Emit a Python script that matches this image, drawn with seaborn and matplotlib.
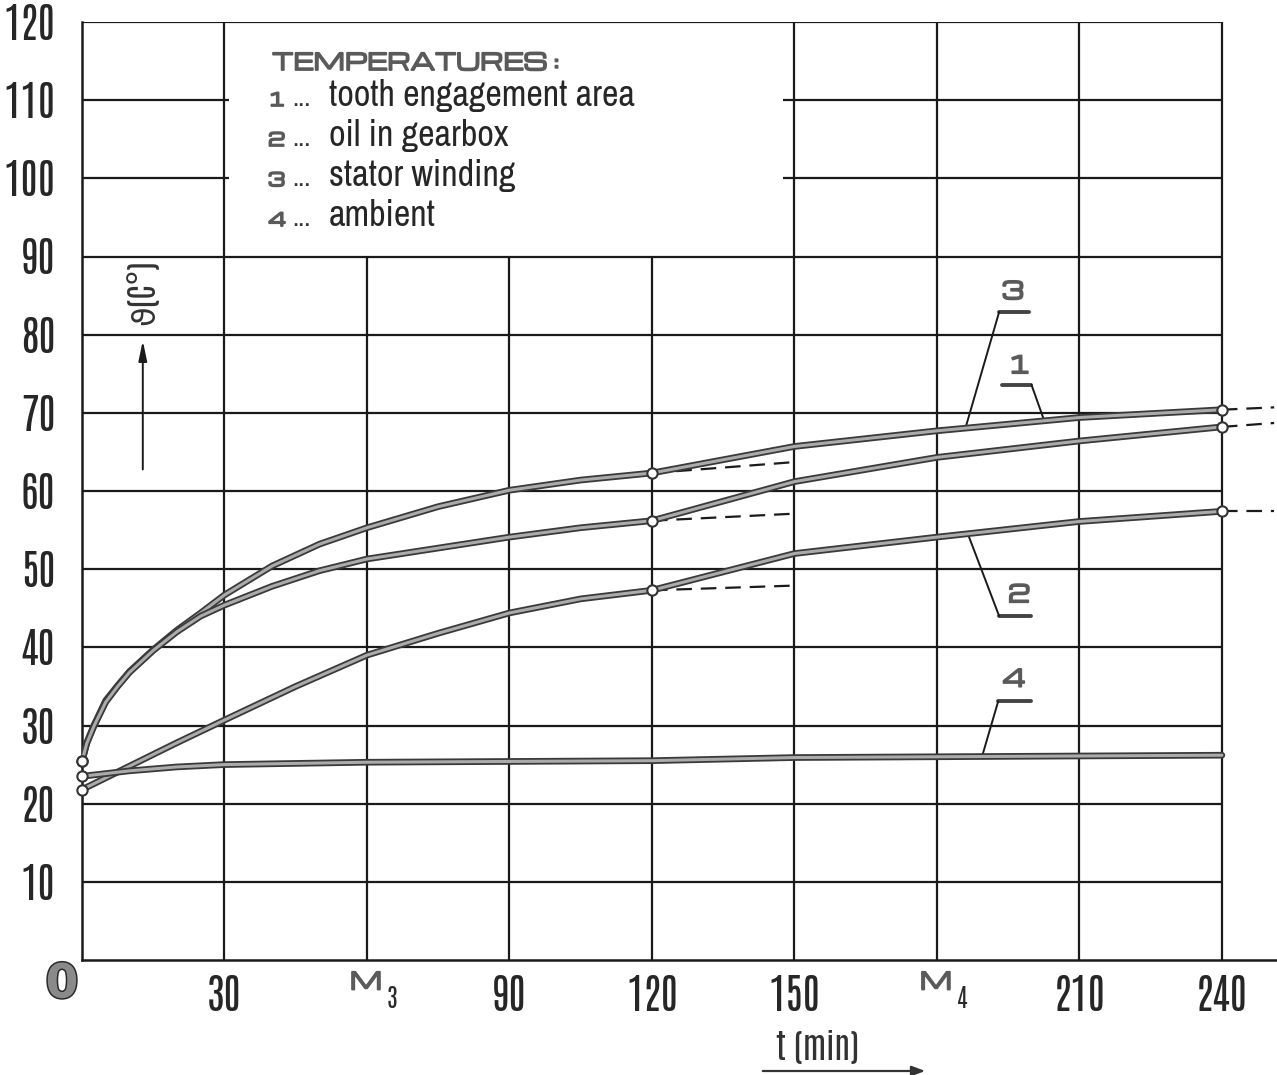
import numpy as np
import pandas as pd
import matplotlib
matplotlib.use("Agg")
import matplotlib.pyplot as plt
import matplotlib.patheffects as pe
from matplotlib.patches import FancyArrowPatch
import seaborn as sns

# values: t in min, temperature in deg C
t_3 = [0, 1, 2.5, 5, 7.5, 10, 15, 20, 25, 30, 40, 50, 60, 75, 90, 105, 120, 150, 180, 210, 240]
temp_3 = [25.4, 27.8, 30.0, 33.2, 35.1, 36.9, 39.7, 42.2, 44.4, 46.7, 50.4, 53.2, 55.3, 58.0, 60.1, 61.4, 62.3,
          65.7, 67.7, 69.4, 70.4]

t_1 = [0, 1, 2.5, 5, 7.5, 10, 15, 20, 25, 30, 40, 50, 60, 75, 90, 105, 120, 150, 180, 210, 240]
temp_1 = [25.4, 27.7, 29.9, 33.0, 35.0, 36.8, 39.6, 42.0, 44.0, 45.4, 47.8, 49.8, 51.3, 52.7, 54.1, 55.3, 56.2,
          61.2, 64.3, 66.4, 68.2]

t_2 = [0, 10, 20, 30, 45, 60, 75, 90, 105, 120, 150, 180, 210, 240]
temp_2 = [21.8, 24.8, 27.8, 30.7, 35.0, 39.0, 41.8, 44.4, 46.2, 47.3, 52.0, 54.1, 56.1, 57.4]

t_4 = [0, 10, 20, 30, 60, 90, 120, 150, 180, 210, 240]
temp_4 = [23.5, 24.2, 24.7, 25.0, 25.3, 25.4, 25.5, 25.9, 26.0, 26.1, 26.2]

# dashed extrapolations after the measuring points
dash_t_120 = [120, 150]
dash_3_120 = [62.3, 63.7]
dash_1_120 = [56.2, 57.1]
dash_2_120 = [47.3, 47.9]
dash_t_240 = [240, 251]
dash_3_240 = [70.4, 70.7]
dash_1_240 = [68.2, 68.7]
dash_2_240 = [57.4, 57.4]

measure_t = [0, 120, 240]

x_ticks = [0, 30, 60, 90, 120, 150, 180, 210, 240]
x_labels = ["", "30", "", "90", "120", "150", "", "210", "240"]
y_ticks = [0, 10, 20, 30, 40, 50, 60, 70, 80, 90, 100, 110, 120]
y_labels = [""] + [str(v) for v in y_ticks[1:]]

legend_title = "TEMPERATURES :"
legend_items = [("1", "tooth engagement area"), ("2", "oil in gearbox"),
                ("3", "stator winding"), ("4", "ambient")]

sns.set_style("white")
narrow = ["Antonio", "Archivo Narrow", "Liberation Sans Narrow", "DejaVu Sans"]
text_narrow = ["Archivo Narrow", "Antonio", "Liberation Sans Narrow", "DejaVu Sans"]
wide = ["Michroma", "DejaVu Sans"]
plt.rcParams["font.family"] = narrow

W, H = 1277, 1075
fig = plt.figure(figsize=(W / 100, H / 100), dpi=100)
ax = fig.add_axes([82 / W, 115 / H, 1 - 82 / W, 938 / H])
ax.set_xlim(0, 251.6)
ax.set_ylim(0, 120)

ink = "#1a1a1a"
grey_txt = "#5a5a5a"
bold_fx = [pe.withStroke(linewidth=1.3, foreground=grey_txt)]

# hand drawn grid, with the blank space for the legend
for y in y_ticks[1:]:
    if y == 100 or y == 110:
        ax.hlines(y, 0, 31, color=ink, lw=1.6, zorder=1)
        ax.hlines(y, 147.5, 240, color=ink, lw=1.6, zorder=1)
    else:
        ax.hlines(y, 0, 240, color=ink, lw=1.6, zorder=1)
for x in x_ticks[1:]:
    top = 90 if x in (60, 90, 120) else 120
    ax.vlines(x, 0, top, color=ink, lw=1.6, zorder=1)

for s in ["top", "right"]:
    ax.spines[s].set_visible(False)
for s in ["left", "bottom"]:
    ax.spines[s].set_color(ink)
    ax.spines[s].set_linewidth(1.8)

ax.set_xticks(x_ticks)
ax.set_xticklabels(x_labels)
ax.set_yticks(y_ticks)
ax.set_yticklabels(y_labels)
ax.tick_params(axis="y", direction="out", length=6, width=1.5, color=ink, pad=13,
               labelsize=30, labelcolor="#262626")
ax.tick_params(axis="x", direction="out", length=5, width=1.5, color=ink, pad=6,
               labelsize=30, labelcolor="#262626")

# curves
line_fx = [pe.Stroke(linewidth=4.8, foreground="#3a3a3a"), pe.Normal()]
curves = [(t_3, temp_3), (t_1, temp_1), (t_2, temp_2), (t_4, temp_4)]
for tt, yy in curves:
    df = pd.DataFrame({"t": tt, "temp": yy})
    sns.lineplot(data=df, x="t", y="temp", ax=ax, color="#ababab", lw=2.2, sort=False,
                 estimator=None, path_effects=line_fx, zorder=3)

for tt, yy in [(dash_t_120, dash_3_120), (dash_t_120, dash_1_120), (dash_t_120, dash_2_120),
               (dash_t_240, dash_3_240), (dash_t_240, dash_1_240), (dash_t_240, dash_2_240)]:
    ax.plot(tt, yy, color=ink, lw=1.6, dashes=(7, 4), zorder=2, clip_on=False)

circ = []
for tt, yy in curves[:3]:
    for t, v in zip(tt, yy):
        if t in measure_t:
            circ.append((t, v))
circ.append((t_4[0], temp_4[0]))
circ = pd.DataFrame(circ, columns=["t", "temp"])
sns.scatterplot(data=circ, x="t", y="temp", ax=ax, s=55, color="white", edgecolor="#333333",
                linewidth=1.5, zorder=5, clip_on=False)
ax.set_xlabel("")
ax.set_ylabel("")

# special x labels
ax.annotate("0", xy=(0, 0), xytext=(-20, -25), textcoords="offset pixels", ha="center", va="center",
            fontsize=34, fontweight="bold", color="#8a8a8a", family=["DejaVu Sans"],
            annotation_clip=False, path_effects=[pe.withStroke(linewidth=2.2, foreground="#2a2a2a")])
for tm, sub in [(60, "3"), (180, "4")]:
    ax.annotate("M", xy=(tm, 0), xytext=(-1, -23), textcoords="offset pixels", ha="center",
                va="center", fontsize=17, color=grey_txt, family=wide,
                annotation_clip=False, path_effects=bold_fx)
    ax.annotate(sub, xy=(tm, 0), xytext=(25, -38), textcoords="offset pixels", ha="center",
                va="center", fontsize=18, color="#2a2a2a", family=narrow, annotation_clip=False)

# curve labels with leader lines
def curve_label(num, text_xy, line_x0, line_x1, line_y, tip):
    ax.text(text_xy[0], text_xy[1], num, ha="center", va="center", fontsize=17,
            color=grey_txt, family=wide, path_effects=bold_fx)
    ax.plot([line_x0, line_x1], [line_y, line_y], color="#444444", lw=2.8, solid_capstyle="round")
    start_x = line_x0 if num != "1" else line_x1
    ax.plot([start_x, tip[0]], [line_y, tip[1]], color=ink, lw=1.4)

curve_label("3", (196, 85.4), 193.1, 199.4, 82.9, (186, np.interp(186, t_3, temp_3)))
curve_label("1", (197.3, 75.9), 193.6, 199.9, 73.6, (202.6, np.interp(202.6, t_3, temp_3)))
curve_label("2", (197.3, 46.6), 193.1, 199.9, 44.0, (186.5, np.interp(186.5, t_2, temp_2)))
curve_label("4", (196.2, 35.8), 192.9, 199.8, 33.1, (189.5, np.interp(189.5, t_4, temp_4)))

# axis labels
ax.text(12.6, 85.5, "\u03d1(C\u00b0)", rotation=90, ha="center", va="center", fontsize=23,
        color="#333333")
ax.annotate("", xy=(12.8, 79.6), xytext=(12.8, 62.4),
            arrowprops=dict(arrowstyle="-|>,head_length=1.2,head_width=0.25", color=ink, lw=1.4))

fig.text(818 / W, 1 - 1047 / H, "t (min)", ha="center", va="center", fontsize=24, color="#333333")
fig.add_artist(FancyArrowPatch((760 / W, 1 - 1071 / H), (928 / W, 1 - 1071 / H),
                               transform=fig.transFigure,
                               arrowstyle="-|>,head_length=8,head_width=3",
                               color="#333333", lw=1.6))

# legend block
fig.text(272 / W, 1 - 70 / H, legend_title, ha="left", va="baseline", fontsize=16.5,
         color=grey_txt, family=wide, path_effects=bold_fx)
for i, (num, desc) in enumerate(legend_items):
    base = 1 - (106 + i * 40) / H
    fig.text(268 / W, base, num, ha="left", va="baseline", fontsize=13,
             color=grey_txt, family=wide, path_effects=bold_fx)
    fig.text(292 / W, base, "...", ha="left", va="baseline", fontsize=19, color="#333333",
             family=text_narrow)
    fig.text(329 / W, base, desc, ha="left", va="baseline", fontsize=26, color="#262626",
             family=text_narrow)

fig.savefig("out.png", dpi=100)
